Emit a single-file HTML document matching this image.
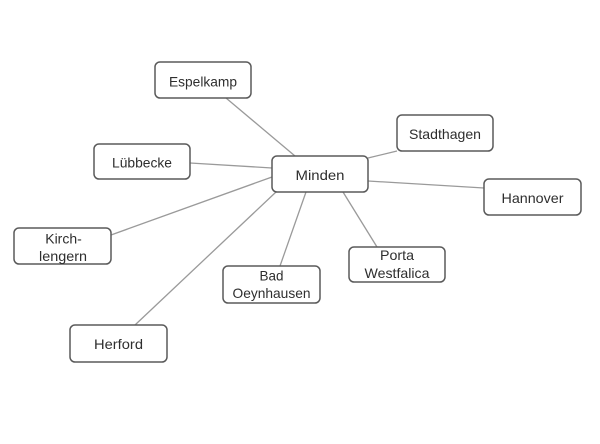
<!DOCTYPE html>
<html>
<head>
<meta charset="utf-8">
<style>
  html, body { margin:0; padding:0; background:#ffffff; }
  body { width:600px; height:444px; overflow:hidden; }
  svg { display:block; }
  text { font-family: "Liberation Sans", "DejaVu Sans", sans-serif; font-size:14px; fill:#2e2e2e; }
</style>
</head>
<body>
<svg width="600" height="444" viewBox="0 0 600 444" xmlns="http://www.w3.org/2000/svg">
  <rect x="0" y="0" width="600" height="444" fill="#ffffff"/>
  <!-- connectors -->
  <g stroke="#9a9a9a" stroke-width="1.3" fill="none">
    <line x1="226" y1="98" x2="295" y2="156"/>
    <line x1="190" y1="163" x2="272" y2="168"/>
    <line x1="111" y1="235" x2="272" y2="177"/>
    <line x1="135" y1="325" x2="276" y2="192"/>
    <line x1="280" y1="266" x2="306" y2="192"/>
    <line x1="377" y1="247" x2="343" y2="192"/>
    <line x1="368" y1="181" x2="484" y2="188"/>
    <line x1="368" y1="158" x2="397" y2="151"/>
  </g>
  <!-- boxes -->
  <g stroke="#5a5a5a" stroke-width="1.5" fill="#ffffff">
    <rect x="155" y="62" width="96" height="36" rx="5"/>
    <rect x="94" y="144" width="96" height="35" rx="5"/>
    <rect x="272" y="156" width="96" height="36" rx="5"/>
    <rect x="397" y="115" width="96" height="36" rx="5"/>
    <rect x="484" y="179" width="97" height="36" rx="5"/>
    <rect x="14" y="228" width="97" height="36" rx="5"/>
    <rect x="223" y="266" width="97" height="37" rx="5"/>
    <rect x="349" y="247" width="96" height="35" rx="5"/>
    <rect x="70" y="325" width="97" height="37" rx="5"/>
  </g>
  <!-- labels -->
  <g text-anchor="middle">
    <text x="203" y="86.5" textLength="68" lengthAdjust="spacingAndGlyphs">Espelkamp</text>
    <text x="142" y="167.5" textLength="60" lengthAdjust="spacingAndGlyphs">Lübbecke</text>
    <text x="320" y="180" textLength="49" lengthAdjust="spacingAndGlyphs">Minden</text>
    <text x="445" y="139" textLength="72" lengthAdjust="spacingAndGlyphs">Stadthagen</text>
    <text x="532.5" y="203" textLength="62" lengthAdjust="spacingAndGlyphs">Hannover</text>
    <text x="63.5" y="243.5" textLength="36.5" lengthAdjust="spacingAndGlyphs">Kirch-</text>
    <text x="63" y="261" textLength="48" lengthAdjust="spacingAndGlyphs">lengern</text>
    <text x="271.5" y="280.5" textLength="24" lengthAdjust="spacingAndGlyphs">Bad</text>
    <text x="271.5" y="298" textLength="78" lengthAdjust="spacingAndGlyphs">Oeynhausen</text>
    <text x="397" y="260" textLength="34" lengthAdjust="spacingAndGlyphs">Porta</text>
    <text x="397" y="278" textLength="65" lengthAdjust="spacingAndGlyphs">Westfalica</text>
    <text x="118.5" y="349" textLength="49" lengthAdjust="spacingAndGlyphs">Herford</text>
  </g>
</svg>
</body>
</html>
